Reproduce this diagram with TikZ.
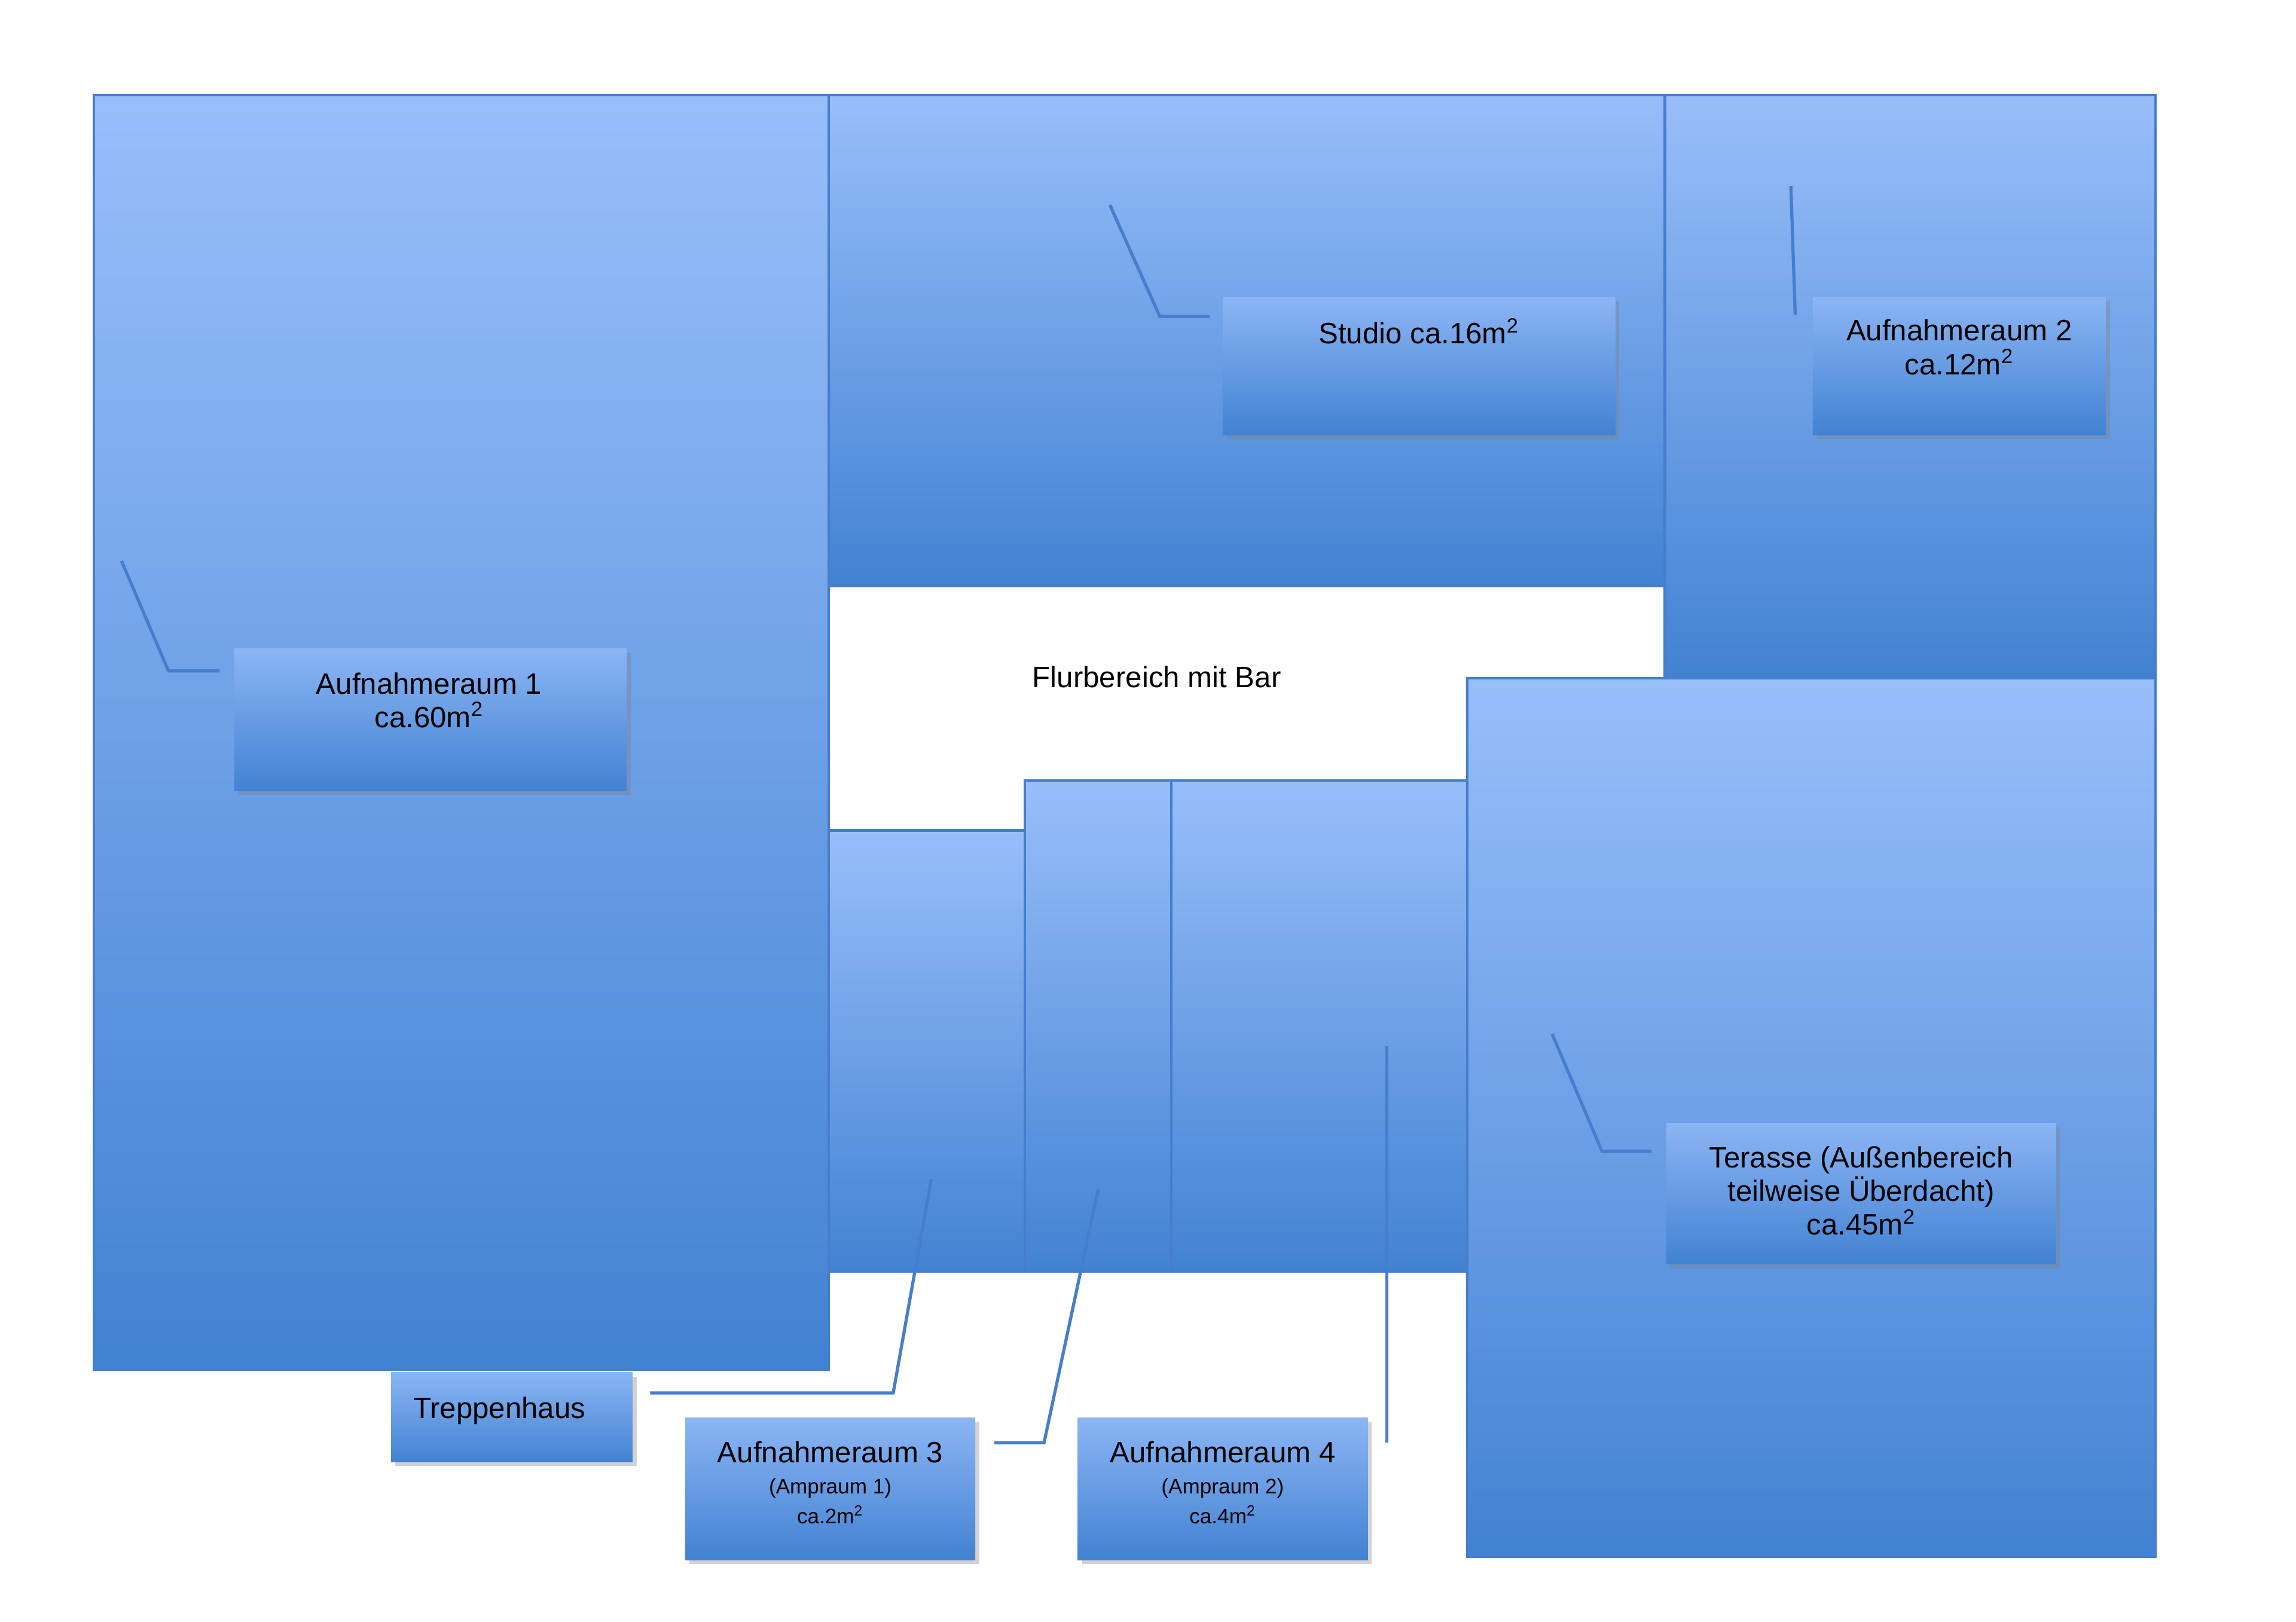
\documentclass[tikz,border=0pt]{standalone}
\usepackage{fontspec}
\setmainfont{Liberation Sans}
\usetikzlibrary{shadows}
\definecolor{topc}{RGB}{152,190,250}
\definecolor{botc}{RGB}{66,130,210}
\definecolor{edgec}{RGB}{70,125,205}
\tikzset{
 room/.style={draw=edgec,line width=1.2pt,top color=topc,bottom color=botc},
 lbl/.style={draw=none,top color=topc!85!botc,bottom color=botc,drop shadow={opacity=0.35,shadow xshift=2pt,shadow yshift=-2pt}},
 call/.style={draw=edgec,line width=1.5pt},
 txt/.style={font=\fontsize{14}{16}\selectfont,align=center,inner sep=0pt}
}
\begin{document}
\begin{tikzpicture}[x=0.02449cm,y=-0.02449cm]
\useasboundingbox[fill=white] (0,0) rectangle (1568,1107);
\path[room] (64,65) rectangle (566,935);
\path[room] (566,65) rectangle (1137,400);
\path[room] (1137,65) rectangle (1472,463);
\path[room] (566,567) rectangle (700,868);
\path[room] (700,533) rectangle (800,868);
\path[room] (800,533) rectangle (1002,868);
\path[room] (1002,463) rectangle (1472,1063);
% labels
\path[lbl] (160,443) rectangle (428,540);
\node[txt] (l1) at (293,478) {Aufnahmeraum 1\\ca.60m\textsuperscript{2}};
\path[lbl] (835,203) rectangle (1103,297);
\node[txt] (l2) at (969,226) {Studio ca.16m\textsuperscript{2}};
\path[lbl] (1238,203) rectangle (1438,297);
\node[txt] (l3) at (1338,237) {Aufnahmeraum 2\\ca.12m\textsuperscript{2}};
\path[lbl] (1138,767) rectangle (1404,863);
\node[txt] (l4) at (1271,813) {Terasse (Außenbereich\\teilweise Überdacht)\\ca.45m\textsuperscript{2}};
\path[lbl] (267,937) rectangle (432,998);
\node[txt] (l5) at (341,963) {Treppenhaus};
\path[lbl] (468,968) rectangle (666,1065);
\node[txt] (l6) at (567,1012) {Aufnahmeraum 3\\[-1pt]{\fontsize{10}{11}\selectfont (Ampraum 1)}\\[-2pt]{\fontsize{10}{11}\selectfont ca.2m\textsuperscript{2}}};
\path[lbl] (736,968) rectangle (934,1065);
\node[txt] (l7) at (835,1012) {Aufnahmeraum 4\\[-1pt]{\fontsize{10}{11}\selectfont (Ampraum 2)}\\[-2pt]{\fontsize{10}{11}\selectfont ca.4m\textsuperscript{2}}};
\node[txt] (fl) at (790,462) {Flurbereich mit Bar};
% callouts
\draw[call] (83,383) -- (115,458) -- (150,458);
\draw[call] (758,140) -- (792,216) -- (826,216);
\draw[call] (1223,127) -- (1226,215);
\draw[call] (1060,706) -- (1094,786) -- (1128,786);
\draw[call] (444,951) -- (610,951) -- (636,805);
\draw[call] (679,985) -- (713,985) -- (750,812);
\draw[call] (947,985) -- (947,714);
\end{tikzpicture}
\end{document}
